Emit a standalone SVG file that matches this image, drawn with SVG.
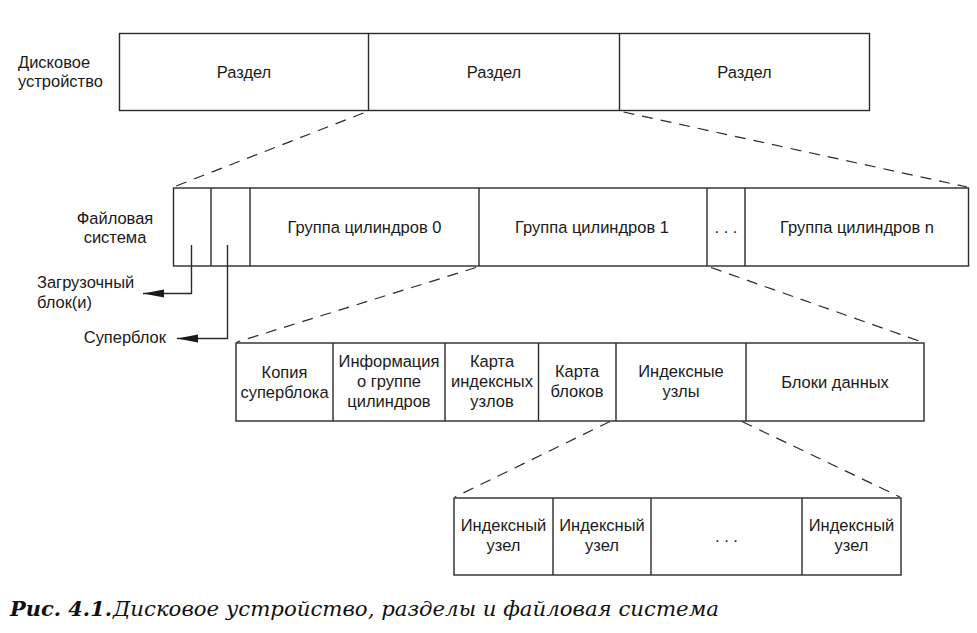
<svg xmlns="http://www.w3.org/2000/svg" width="977" height="633" viewBox="0 0 977 633">
<style>
  .box { fill: #ffffff; stroke: #2a2a2a; stroke-width: 1.4; }
  .div { stroke: #2a2a2a; stroke-width: 1.4; fill: none; }
  .dash { stroke: #2a2a2a; stroke-width: 1.2; fill: none; stroke-dasharray: 11 8; }
  .wire { stroke: #2a2a2a; stroke-width: 1.4; fill: none; }
  .t { font-family: "Liberation Sans", Arial, sans-serif; font-size: 17px; fill: #1a1a1a; text-anchor: middle; }
  .l { font-family: "Liberation Sans", Arial, sans-serif; font-size: 17px; fill: #1a1a1a; text-anchor: start; }
  .r { font-family: "Liberation Sans", Arial, sans-serif; font-size: 17px; fill: #1a1a1a; text-anchor: end; }
  .cap { font-family: "DejaVu Serif", "Liberation Serif", serif; font-size: 20px; font-style: italic; fill: #111; }
</style>
<defs>
  <marker id="arr" markerUnits="userSpaceOnUse" markerWidth="22" markerHeight="10" refX="21" refY="4" orient="auto">
    <path d="M0,0 L21,4 L0,8 z" fill="#1a1a1a"/>
  </marker>
</defs>
<rect width="977" height="633" fill="#ffffff"/>

<g id="disk-label">
  <text class="l" transform="translate(18,0) scale(0.97,1)"><tspan x="0" y="68">Дисковое</tspan><tspan x="0" y="87">устройство</tspan></text>
</g>
<g id="disk">
  <rect class="box" x="119.5" y="33.5" width="750" height="77"/>
  <line class="div" x1="368.5" y1="33.5" x2="368.5" y2="110.5"/>
  <line class="div" x1="619.5" y1="33.5" x2="619.5" y2="110.5"/>
  <text class="t" transform="translate(244,0) scale(0.97,1)" x="0" y="78">Раздел</text>
  <text class="t" transform="translate(494,0) scale(0.97,1)" x="0" y="78">Раздел</text>
  <text class="t" transform="translate(744.5,0) scale(0.97,1)" x="0" y="78">Раздел</text>
</g>

<g id="fs-label">
  <text class="t" transform="translate(115,0) scale(0.97,1)"><tspan x="0" y="224">Файловая</tspan><tspan x="0" y="243">система</tspan></text>
</g>
<g id="filesystem">
  <rect class="box" x="173.5" y="188" width="795" height="78"/>
  <line class="div" x1="211" y1="188" x2="211" y2="266"/>
  <line class="div" x1="250" y1="188" x2="250" y2="266"/>
  <line class="div" x1="479" y1="188" x2="479" y2="266"/>
  <line class="div" x1="707" y1="188" x2="707" y2="266"/>
  <line class="div" x1="745" y1="188" x2="745" y2="266"/>
  <text class="t" transform="translate(364.5,0) scale(0.97,1)" x="0" y="233">Группа цилиндров 0</text>
  <text class="t" transform="translate(592,0) scale(0.97,1)" x="0" y="233">Группа цилиндров 1</text>
  <text class="t" transform="translate(726,0) scale(0.97,1)" x="0" y="233">. . .</text>
  <text class="t" transform="translate(857,0) scale(0.97,1)" x="0" y="233">Группа цилиндров n</text>
</g>

<g id="boot-label">
  <text class="l" transform="translate(37,0) scale(0.97,1)"><tspan x="0" y="288">Загрузочный</tspan><tspan x="0" y="308">блок(и)</tspan></text>
</g>
<g id="super-label">
  <text class="r" transform="translate(166,0) scale(0.97,1)" x="0" y="343">Суперблок</text>
</g>

<g id="cylgroup">
  <rect class="box" x="236" y="343" width="688" height="78"/>
  <line class="div" x1="333" y1="343" x2="333" y2="421"/>
  <line class="div" x1="445" y1="343" x2="445" y2="421"/>
  <line class="div" x1="538.5" y1="343" x2="538.5" y2="421"/>
  <line class="div" x1="616" y1="343" x2="616" y2="421"/>
  <line class="div" x1="746" y1="343" x2="746" y2="421"/>
  <text class="t" transform="translate(284.5,0) scale(0.97,1)"><tspan x="0" y="378">Копия</tspan><tspan x="0" y="398">суперблока</tspan></text>
  <text class="t" transform="translate(389,0) scale(0.97,1)"><tspan x="0" y="367">Информация</tspan><tspan x="0" y="387">о группе</tspan><tspan x="0" y="407">цилиндров</tspan></text>
  <text class="t" transform="translate(492,0) scale(0.97,1)"><tspan x="0" y="367">Карта</tspan><tspan x="0" y="387">индексных</tspan><tspan x="0" y="407">узлов</tspan></text>
  <text class="t" transform="translate(577,0) scale(0.97,1)"><tspan x="0" y="377">Карта</tspan><tspan x="0" y="397">блоков</tspan></text>
  <text class="t" transform="translate(681,0) scale(0.97,1)"><tspan x="0" y="377">Индексные</tspan><tspan x="0" y="397">узлы</tspan></text>
  <text class="t" transform="translate(835,0) scale(0.97,1)" x="0" y="388">Блоки данных</text>
</g>

<g id="inodes">
  <rect class="box" x="454" y="498" width="447" height="77"/>
  <line class="div" x1="553" y1="498" x2="553" y2="575"/>
  <line class="div" x1="651" y1="498" x2="651" y2="575"/>
  <line class="div" x1="802" y1="498" x2="802" y2="575"/>
  <text class="t" transform="translate(503.5,0) scale(0.97,1)"><tspan x="0" y="531">Индексный</tspan><tspan x="0" y="551">узел</tspan></text>
  <text class="t" transform="translate(602,0) scale(0.97,1)"><tspan x="0" y="531">Индексный</tspan><tspan x="0" y="551">узел</tspan></text>
  <text class="t" transform="translate(726.5,0) scale(0.97,1)" x="0" y="542">. . .</text>
  <text class="t" transform="translate(851.5,0) scale(0.97,1)"><tspan x="0" y="531">Индексный</tspan><tspan x="0" y="551">узел</tspan></text>
</g>

<g id="connectors">
  <line class="dash" x1="363.5" y1="113" x2="173.5" y2="187"/>
  <line class="dash" x1="623.5" y1="112" x2="967" y2="187"/>
  <line class="dash" x1="476" y1="267.5" x2="237" y2="342"/>
  <line class="dash" x1="711" y1="267.5" x2="922" y2="342"/>
  <line class="dash" x1="610" y1="421.5" x2="455" y2="497"/>
  <line class="dash" x1="742" y1="421.5" x2="900" y2="497"/>
  <polyline class="wire" points="191.5,245 191.5,293.5 143,293.5" marker-end="url(#arr)"/>
  <polyline class="wire" points="227.5,245 227.5,338.5 177,338.5" marker-end="url(#arr)"/>
</g>

<g id="caption">
  <text class="cap" x="10" y="616" font-weight="bold" textLength="102" lengthAdjust="spacingAndGlyphs">Рис. 4.1.</text>
  <text class="cap" x="113" y="616" textLength="606" lengthAdjust="spacingAndGlyphs">Дисковое устройство, разделы и файловая система</text>
</g>
</svg>
